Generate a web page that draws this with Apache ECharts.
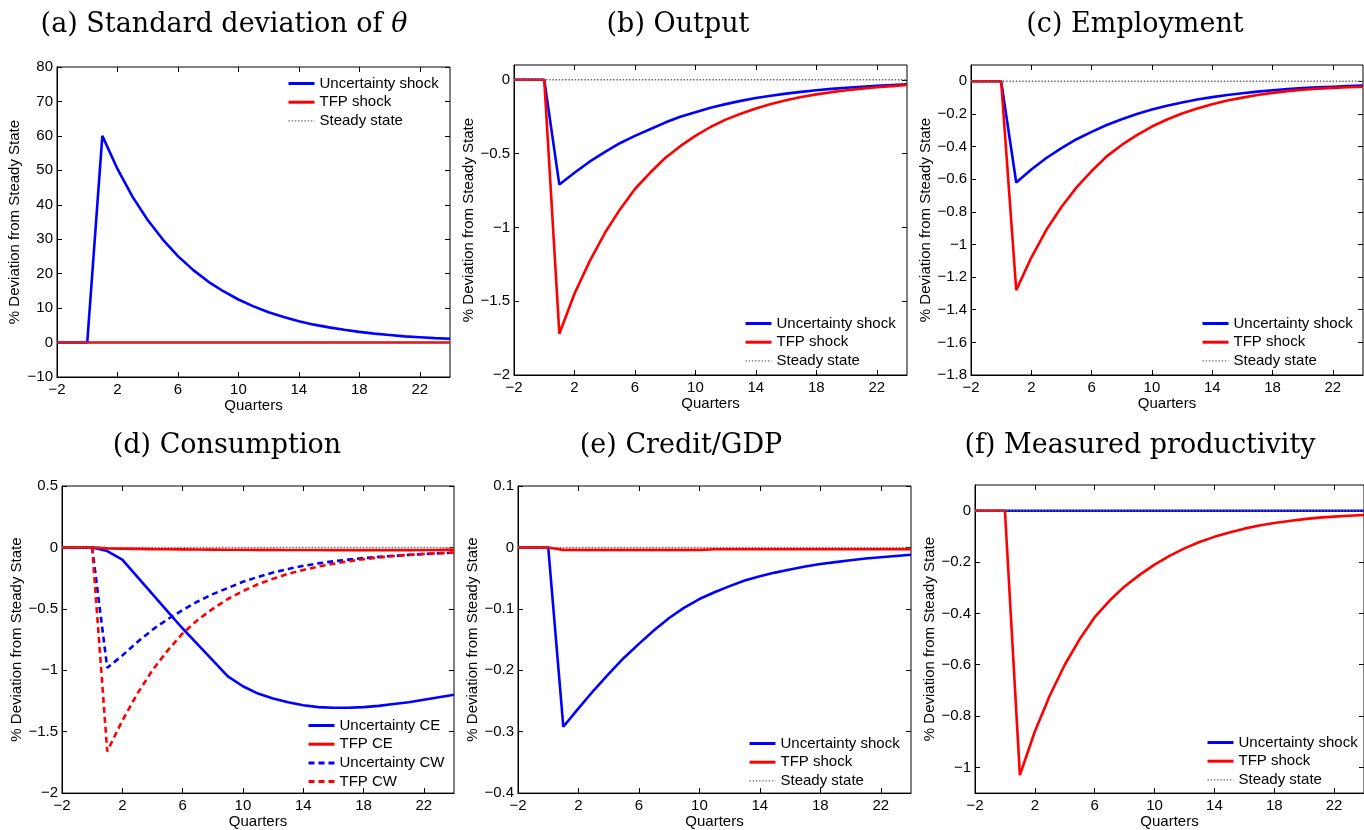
<!DOCTYPE html>
<html>
<head>
<meta charset="utf-8">
<script src="https://cdn.jsdelivr.net/npm/echarts@6/dist/echarts.min.js"></script>
<style>
  html, body { margin: 0; padding: 0; background: #fff; }
  #chart { width: 1364px; height: 830px; }
</style>
</head>
<body>
<div id="chart"></div>
<script>
// quarters after the shock
var quarters = [-2, -1, 0, 1, 2, 3, 4, 5, 6, 7, 8, 9, 10, 11, 12, 13, 14, 15, 16, 17, 18, 19, 20, 21, 22, 23, 24];
var xTicks = [-2, 2, 6, 10, 14, 18, 22];

// (a) standard deviation of theta
var uncA = [0, 0, 0, 60, 50.4, 42.3, 35.6, 29.9, 25.1, 21.1, 17.7, 14.9, 12.5, 10.5, 8.8, 7.4, 6.2, 5.2, 4.4, 3.7, 3.1, 2.6, 2.2, 1.8, 1.55, 1.3, 1.1];
var tfpA = [0, 0, 0, 0, 0, 0, 0, 0, 0, 0, 0, 0, 0, 0, 0, 0, 0, 0, 0, 0, 0, 0, 0, 0, 0, 0, 0];
// (b) output
var uncB = [0, 0, 0, -0.71, -0.63, -0.555, -0.49, -0.43, -0.38, -0.335, -0.29, -0.25, -0.22, -0.19, -0.165, -0.143, -0.124, -0.108, -0.094, -0.082, -0.071, -0.062, -0.054, -0.047, -0.041, -0.036, -0.031];
var tfpB = [0, 0, 0, -1.72, -1.45, -1.23, -1.04, -0.88, -0.74, -0.63, -0.53, -0.45, -0.38, -0.32, -0.27, -0.23, -0.194, -0.164, -0.139, -0.117, -0.099, -0.084, -0.071, -0.06, -0.051, -0.043, -0.036];
// (c) employment
var uncC = [0, 0, 0, -0.62, -0.54, -0.47, -0.41, -0.355, -0.31, -0.268, -0.232, -0.2, -0.173, -0.15, -0.13, -0.112, -0.097, -0.084, -0.073, -0.063, -0.055, -0.048, -0.042, -0.037, -0.033, -0.029, -0.026];
var tfpC = [0, 0, 0, -1.28, -1.08, -0.91, -0.77, -0.65, -0.55, -0.46, -0.39, -0.33, -0.277, -0.234, -0.197, -0.166, -0.14, -0.118, -0.1, -0.084, -0.071, -0.06, -0.052, -0.045, -0.04, -0.036, -0.033];
// (d) consumption
var uncCE = [0, 0, 0, -0.03, -0.1, -0.24, -0.38, -0.52, -0.66, -0.79, -0.92, -1.05, -1.13, -1.19, -1.23, -1.26, -1.285, -1.3, -1.305, -1.305, -1.3, -1.29, -1.275, -1.26, -1.24, -1.22, -1.2];
var tfpCE = [0, 0, 0, -0.008, -0.01, -0.012, -0.014, -0.015, -0.016, -0.017, -0.018, -0.019, -0.019, -0.02, -0.02, -0.021, -0.021, -0.021, -0.022, -0.022, -0.022, -0.022, -0.022, -0.022, -0.021, -0.02, -0.018];
var uncCW = [0, 0, 0, -0.98, -0.88, -0.77, -0.67, -0.585, -0.51, -0.44, -0.38, -0.33, -0.28, -0.24, -0.205, -0.175, -0.15, -0.13, -0.113, -0.099, -0.087, -0.077, -0.068, -0.061, -0.054, -0.048, -0.043];
var tfpCW = [0, 0, 0, -1.66, -1.41, -1.19, -1.0, -0.84, -0.7, -0.59, -0.5, -0.42, -0.355, -0.3, -0.255, -0.215, -0.183, -0.156, -0.133, -0.113, -0.096, -0.082, -0.07, -0.06, -0.053, -0.047, -0.042];
// (e) credit/GDP
var uncE = [0, 0, 0, -0.292, -0.262, -0.233, -0.206, -0.18, -0.157, -0.135, -0.115, -0.098, -0.084, -0.073, -0.063, -0.054, -0.047, -0.041, -0.036, -0.031, -0.027, -0.024, -0.021, -0.018, -0.016, -0.014, -0.012];
var tfpE = [0, 0, 0, -0.004, -0.004, -0.004, -0.004, -0.004, -0.004, -0.004, -0.004, -0.004, -0.004, -0.003, -0.003, -0.003, -0.003, -0.003, -0.003, -0.003, -0.003, -0.003, -0.003, -0.003, -0.003, -0.003, -0.003];
// (f) measured productivity
var uncF = [0, 0, 0, 0, 0, 0, 0, 0, 0, 0, 0, 0, 0, 0, 0, 0, 0, 0, 0, 0, 0, 0, 0, 0, 0, 0, 0];
var tfpF = [0, 0, 0, -1.03, -0.86, -0.72, -0.6, -0.5, -0.415, -0.35, -0.295, -0.25, -0.21, -0.176, -0.147, -0.122, -0.102, -0.085, -0.07, -0.058, -0.048, -0.04, -0.033, -0.027, -0.023, -0.02, -0.017];
var steady = [0, 0, 0, 0, 0, 0, 0, 0, 0, 0, 0, 0, 0, 0, 0, 0, 0, 0, 0, 0, 0, 0, 0, 0, 0, 0, 0];

var yTicksA = [-10, 0, 10, 20, 30, 40, 50, 60, 70, 80];
var yTicksB = [-2, -1.5, -1, -0.5, 0];
var yTicksC = [-1.8, -1.6, -1.4, -1.2, -1, -0.8, -0.6, -0.4, -0.2, 0];
var yTicksD = [-2, -1.5, -1, -0.5, 0, 0.5];
var yTicksE = [-0.4, -0.3, -0.2, -0.1, 0, 0.1];
var yTicksF = [-1, -0.8, -0.6, -0.4, -0.2, 0];

var titles = ['(a) Standard deviation of {it|θ}', '(b) Output', '(c) Employment',
  '(d) Consumption', '(e) Credit/GDP', '(f) Measured productivity'];

var BLUE = '#0000ff', RED = '#ff0000', GREY = '#666666';
var SANS = '"Liberation Sans", Arial, sans-serif';
var SERIF = '"DejaVu Serif", serif';
var LW = 2.6;
var DOTTED = [1.4, 1.8];

// layout of each panel: plot box, y range, title centre, legend spot
var panels = [
  { grid: [57, 67, 393, 310], yr: [-10, 80], yt: yTicksA, tc: [224, 10], lg: [287, 76], gap: 35 },
  { grid: [514, 65, 393, 310], yr: [-2, 0.1], yt: yTicksB, tc: [678, 10], lg: [744, 316], gap: 38 },
  { grid: [971, 65, 392, 310], yr: [-1.8, 0.1], yt: yTicksC, tc: [1135, 10], lg: [1201, 316], gap: 38 },
  { grid: [62, 486, 392, 310], yr: [-2, 0.5], yt: yTicksD, tc: [227, 431], lg: [307, 718], gap: 38 },
  { grid: [518, 486, 393, 310], yr: [-0.4, 0.1], yt: yTicksE, tc: [681, 431], lg: [748, 736], gap: 38 },
  { grid: [975, 485, 392, 309], yr: [-1.1, 0.1], yt: yTicksF, tc: [1140, 431], lg: [1206, 735], gap: 38 }
];

function pairs(vals) {
  return quarters.map(function (q, i) { return [q, vals[i]]; });
}
function minus(v) {
  return String(v).replace('-', '\u2212');
}

var grid = [], xAxis = [], yAxis = [], title = [], legend = [], series = [];

panels.forEach(function (p, i) {
  grid.push({
    left: p.grid[0], top: p.grid[1], width: p.grid[2], height: p.grid[3],
    show: true, borderColor: '#000', borderWidth: 1, backgroundColor: '#fff'
  });
  title.push({
    text: titles[i], left: p.tc[0], top: p.tc[1], textAlign: 'center', padding: 0,
    textStyle: {
      fontFamily: SERIF, fontSize: 27, fontWeight: 'normal', color: '#000', lineHeight: 30,
      rich: { it: { fontStyle: 'italic', fontFamily: SERIF, fontSize: 27, lineHeight: 30 } }
    }
  });
  // bottom / left axes with labels
  xAxis.push({
    type: 'value', gridIndex: i, min: -2, max: 24, position: 'bottom',
    name: 'Quarters', nameLocation: 'middle', nameGap: 20,
    nameTextStyle: { fontFamily: SANS, fontSize: 15, color: '#000' },
    axisLine: { show: true, onZero: false, lineStyle: { color: '#000', width: 1 } },
    axisTick: { show: true, inside: true, length: 5, customValues: xTicks, lineStyle: { color: '#000' } },
    axisLabel: { show: true, margin: 5, customValues: xTicks, formatter: minus, fontFamily: SANS, fontSize: 15, color: '#000' },
    splitLine: { show: false }
  });
  yAxis.push({
    type: 'value', gridIndex: i, min: p.yr[0], max: p.yr[1], position: 'left',
    name: '% Deviation from Steady State', nameLocation: 'middle', nameGap: p.gap,
    nameTextStyle: { fontFamily: SANS, fontSize: 15, color: '#000' },
    axisLine: { show: true, onZero: false, lineStyle: { color: '#000', width: 1 } },
    axisTick: { show: true, inside: true, length: 5, customValues: p.yt, lineStyle: { color: '#000' } },
    axisLabel: { show: true, margin: 4, customValues: p.yt, formatter: minus, fontFamily: SANS, fontSize: 15, color: '#000' },
    splitLine: { show: false }
  });
  // mirrored top / right ticks (box style)
  xAxis.push({
    type: 'value', gridIndex: i, min: -2, max: 24, position: 'top',
    axisLine: { show: false, onZero: false },
    axisTick: { show: true, inside: true, length: 5, customValues: xTicks, lineStyle: { color: '#000' } },
    axisLabel: { show: false }, splitLine: { show: false }
  });
  yAxis.push({
    type: 'value', gridIndex: i, min: p.yr[0], max: p.yr[1], position: 'right',
    axisLine: { show: false, onZero: false },
    axisTick: { show: true, inside: true, length: 5, customValues: p.yt, lineStyle: { color: '#000' } },
    axisLabel: { show: false }, splitLine: { show: false }
  });
});

function line(name, vals, i, color, type, width) {
  return {
    name: name, type: 'line', xAxisIndex: i * 2, yAxisIndex: i * 2, data: pairs(vals),
    symbol: 'none', silent: true, animation: false, clip: true,
    lineStyle: { color: color, width: width || LW, type: type || 'solid' },
    itemStyle: { color: color }
  };
}
var shockSets = [[uncA, tfpA], [uncB, tfpB], [uncC, tfpC], null, [uncE, tfpE], [uncF, tfpF]];
shockSets.forEach(function (s, i) {
  if (!s) return;
  series.push(line('Uncertainty shock', s[0], i, BLUE));
  series.push(line('TFP shock', s[1], i, RED));
  series.push(line('Steady state', steady, i, GREY, DOTTED, 1.4));
});
series.push(line('Uncertainty CE', uncCE, 3, BLUE));
series.push(line('TFP CE', tfpCE, 3, RED));
series.push(line('Uncertainty CW', uncCW, 3, BLUE, [6, 4]));
series.push(line('TFP CW', tfpCW, 3, RED, [6, 4]));
series.push(line('Steady state', steady, 3, GREY, DOTTED, 1.4));

function item(name, width) {
  return { name: name, lineStyle: { width: width } };
}
panels.forEach(function (p, i) {
  legend.push({
    left: p.lg[0], top: p.lg[1], orient: 'vertical', padding: 0,
    itemWidth: 26, itemHeight: 15, itemGap: 3.7, selectedMode: false,
    itemStyle: { opacity: 0 },
    textStyle: { fontFamily: SANS, fontSize: 15, color: '#000', lineHeight: 15 },
    data: i === 3
      ? [item('Uncertainty CE', 3), item('TFP CE', 3), item('Uncertainty CW', 3), item('TFP CW', 3)]
      : [item('Uncertainty shock', 3), item('TFP shock', 3), item('Steady state', 1.4)]
  });
});

var chart = echarts.init(document.getElementById('chart'), null, { renderer: 'canvas' });
chart.setOption({
  backgroundColor: '#fff',
  animation: false,
  title: title,
  grid: grid,
  xAxis: xAxis,
  yAxis: yAxis,
  legend: legend,
  series: series
});
</script>
</body>
</html>
